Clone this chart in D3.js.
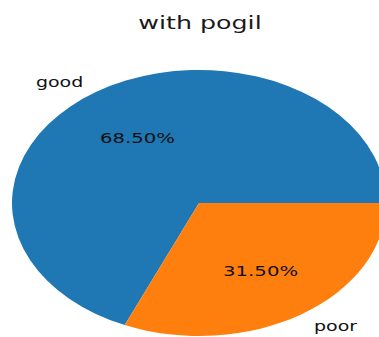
<!DOCTYPE html>
<html><head><meta charset="utf-8">
<script src="https://cdn.jsdelivr.net/npm/d3@7"></script>
<style>html,body{margin:0;padding:0;background:#fff;}svg{display:block;}</style>
</head><body>
<script>
const title = "with pogil";
const categories = ["good", "poor"];
const values = [68.5, 31.5];
const colors = ["#1f77b4", "#ff7f0e"];

const W = 379, H = 337;
const cx = 199, cy = 203, r = 133, sx = 1.406;
const font = "DejaVu Sans, sans-serif";

const svg = d3.select("body").append("svg").attr("width", W).attr("height", H);

svg.append("text")
  .attr("transform", `translate(200,29) scale(${sx},1)`)
  .attr("text-anchor", "middle")
  .attr("font-family", font).attr("font-size", 18).attr("fill", "#1a1a1a")
  .text(title);

const g = svg.append("g").attr("transform", `translate(${cx},${cy}) scale(${sx},1)`);

const data = categories.map((c, i) => ({cat: c, v: values[i], col: colors[i]}));
const pie = d3.pie().value(d => d.v).sort(null)
  .startAngle(Math.PI / 2).endAngle(Math.PI / 2 - 2 * Math.PI);
const arcs = pie(data);
const arc = d3.arc().innerRadius(0).outerRadius(r);

g.selectAll("path.slice").data(arcs).join("path")
  .attr("class", "slice").attr("d", arc).attr("fill", d => d.data.col);

const total = d3.sum(values);
arcs.forEach(a => {
  const m = (a.startAngle + a.endAngle) / 2;
  const ux = Math.sin(m), uy = -Math.cos(m);
  g.append("text")
    .attr("x", ux * r * 1.1 + (ux < 0 ? -2 : 1.5)).attr("y", uy * r * 1.1 + 1.5)
    .attr("dy", "0.35em")
    .attr("text-anchor", ux < 0 ? "end" : "start")
    .attr("font-family", font).attr("font-size", 13.5).attr("fill", "#111")
    .text(a.data.cat);
  g.append("text")
    .attr("x", ux * r * 0.6).attr("y", uy * r * 0.6 + 1.5)
    .attr("dy", "0.35em")
    .attr("text-anchor", "middle")
    .attr("font-family", font).attr("font-size", 14).attr("fill", "#111")
    .text((a.data.v / total * 100).toFixed(2) + "%");
});
</script>
</body></html>
